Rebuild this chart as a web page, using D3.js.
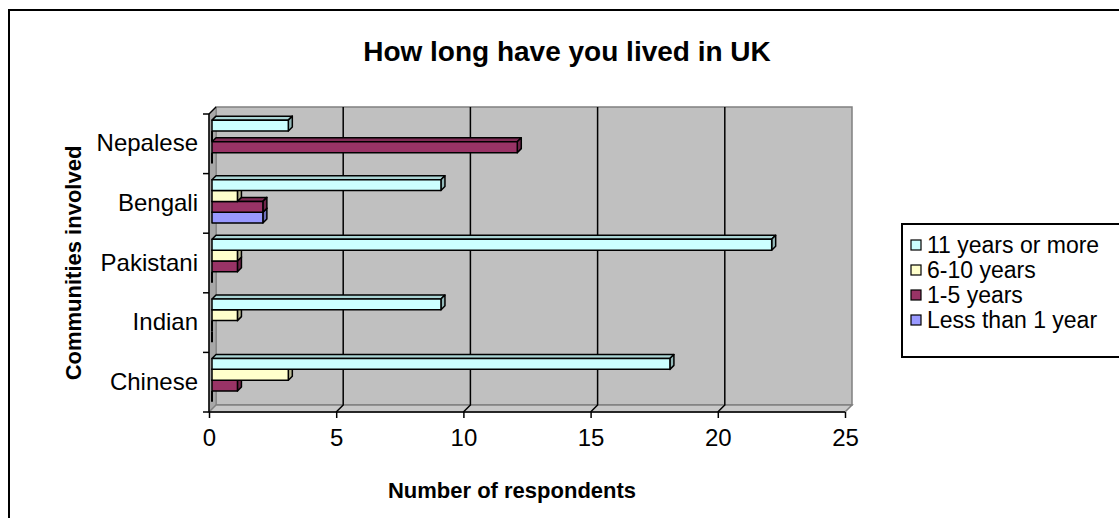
<!DOCTYPE html>
<html>
<head>
<meta charset="utf-8">
<script src="https://cdn.jsdelivr.net/npm/d3@7"></script>
<style>
  html, body { margin: 0; padding: 0; background: #fff; }
  svg { display: block; font-family: "Liberation Sans", Arial, sans-serif; }
</style>
</head>
<body>
<svg id="chart" width="1119" height="518"></svg>
<script>
// Communities, listed bottom to top as on the category axis
const categories = ["Chinese", "Indian", "Pakistani", "Bengali", "Nepalese"];
// Series, listed in legend order (top bar of each group first)
const seriesNames = ["11 years or more", "6-10 years", "1-5 years", "Less than 1 year"];
const elevenPlus = [18, 9, 22, 9, 3];
const sixToTen   = [3, 1, 1, 1, 0];
const oneToFive  = [1, 0, 1, 2, 12];
const underOne   = [0, 0, 0, 2, 0];
const xTicks = [0, 5, 10, 15, 20, 25];

const seriesValues = [elevenPlus, sixToTen, oneToFive, underOne];
const faceColors = ["#CCFFFF", "#FFFFCC", "#993366", "#9999FF"];

const svg = d3.select("#chart");

// front plane of the plot and the projected depth of the walls
const plot = { left: 209, right: 845, top: 114, bottom: 412 };
const DX = 7, DY = -7;

const x = d3.scaleLinear().domain([0, 25]).range([plot.left, plot.right]);
const y = d3.scaleBand().domain(categories).range([plot.bottom, plot.top]).padding(0);
const ySeries = d3.scaleBand().domain(d3.range(seriesNames.length))
  .range([0, y.bandwidth()]).paddingInner(0).paddingOuter(0.75);

const pts = a => a.map(p => p.join(",")).join(" ");

// chart area frame
svg.append("rect").attr("x", 9).attr("y", 10).attr("width", 1200).attr("height", 600)
  .attr("fill", "#fff").attr("stroke", "#000").attr("stroke-width", 2);

// back wall
svg.append("polygon")
  .attr("points", pts([[plot.left + DX, plot.top + DY], [plot.right + DX, plot.top + DY],
                       [plot.right + DX, plot.bottom + DY], [plot.left + DX, plot.bottom + DY]]))
  .attr("fill", "#C0C0C0").attr("stroke", "#808080").attr("stroke-width", 1.5);

// side wall
svg.append("polygon")
  .attr("points", pts([[plot.left, plot.top], [plot.left + DX, plot.top + DY],
                       [plot.left + DX, plot.bottom + DY], [plot.left, plot.bottom]]))
  .attr("fill", "#A8A8A8").attr("stroke", "#808080").attr("stroke-width", 1);

// floor
svg.append("polygon")
  .attr("points", pts([[plot.left, plot.bottom], [plot.right, plot.bottom],
                       [plot.right + DX, plot.bottom + DY], [plot.left + DX, plot.bottom + DY]]))
  .attr("fill", "#C8C8C8").attr("stroke", "#808080").attr("stroke-width", 1.5);

// major gridlines: up the back wall and across the floor
const grid = svg.append("g");
xTicks.filter(t => t > 0 && t < 25).forEach(t => {
  grid.append("polyline")
    .attr("points", pts([[x(t), plot.bottom], [x(t) + DX, plot.bottom + DY], [x(t) + DX, plot.top + DY]]))
    .attr("fill", "none").attr("stroke", "#000").attr("stroke-width", 1.5);
});

// 3-D bars: front face, top face and right side
const FX = 3, FY = -2;      // front face offset into the depth
const BX = 4, BY = -4;      // bar depth
const shade = (c, k) => d3.color(c).darker(k).formatHex();

const bars = svg.append("g");
categories.forEach((cat, ci) => {
  for (let si = seriesNames.length - 1; si >= 0; si--) {
    const v = seriesValues[si][ci];
    const x0 = x(0) + FX, x1 = x(v) + FX;
    const y0 = y(cat) + ySeries(si) + FY, y1 = y0 + ySeries.bandwidth();
    const g = bars.append("g").attr("stroke", "#000").attr("stroke-width", 1.5)
      .attr("stroke-linejoin", "round");
    if (v === 0) {
      // an empty bar collapses to its dark end cap
      g.append("line").attr("x1", x0).attr("x2", x0).attr("y1", y0).attr("y2", y1)
        .attr("stroke-width", 2);
      continue;
    }
    g.append("polygon")
      .attr("points", pts([[x0, y0], [x0 + BX, y0 + BY], [x1 + BX, y0 + BY], [x1, y0]]))
      .attr("fill", shade(faceColors[si], 0.5));
    g.append("polygon")
      .attr("points", pts([[x1, y0], [x1 + BX, y0 + BY], [x1 + BX, y1 + BY], [x1, y1]]))
      .attr("fill", shade(faceColors[si], 0.9));
    g.append("rect")
      .attr("x", x0).attr("y", y0).attr("width", x1 - x0).attr("height", y1 - y0)
      .attr("fill", faceColors[si]);
  }
});

// value axis along the front of the floor
const xAxis = svg.append("g").attr("transform", `translate(0,${plot.bottom})`)
  .call(d3.axisBottom(x).tickValues(xTicks).tickSize(6).tickPadding(11));
xAxis.select(".domain").attr("stroke", "#000").attr("stroke-width", 1.5)
  .attr("d", `M${plot.left},0H${plot.right}`);
xAxis.selectAll(".tick line").attr("stroke", "#000").attr("stroke-width", 1.5);
xAxis.selectAll(".tick text").attr("font-size", 24).attr("fill", "#000")
  .attr("font-family", "Liberation Sans, Arial, sans-serif");

// category axis along the front edge of the side wall
const yAxis = svg.append("g").attr("transform", `translate(${plot.left},0)`)
  .call(d3.axisLeft(y).tickSize(0).tickPadding(11));
yAxis.select(".domain").attr("stroke", "#000").attr("stroke-width", 1.5)
  .attr("d", `M0,${plot.top}V${plot.bottom}`);
yAxis.selectAll(".tick text").attr("font-size", 24).attr("fill", "#000")
  .attr("font-family", "Liberation Sans, Arial, sans-serif");
const catEdges = d3.range(categories.length + 1).map(i => plot.bottom - i * y.step());
yAxis.selectAll(".edge").data(catEdges).join("line").attr("class", "edge")
  .attr("x1", -6).attr("x2", 0).attr("y1", d => d).attr("y2", d => d)
  .attr("stroke", "#000").attr("stroke-width", 1.5);
yAxis.append("line").attr("x1", 0).attr("y1", plot.top).attr("x2", DX).attr("y2", plot.top + DY)
  .attr("stroke", "#000").attr("stroke-width", 1.5);

// titles
svg.append("text").attr("x", 567).attr("y", 61).attr("text-anchor", "middle")
  .attr("font-size", 28).attr("font-weight", "bold").text("How long have you lived in UK");
svg.append("text").attr("x", 512).attr("y", 498).attr("text-anchor", "middle")
  .attr("font-size", 22).attr("font-weight", "bold").text("Number of respondents");
svg.append("text").attr("transform", "translate(81,263) rotate(-90)").attr("text-anchor", "middle")
  .attr("font-size", 22).attr("font-weight", "bold").text("Communities involved");

// legend
const legend = svg.append("g").attr("transform", "translate(902,224)");
legend.append("rect").attr("x", 0).attr("y", 0).attr("width", 300).attr("height", 133)
  .attr("fill", "#fff").attr("stroke", "#000").attr("stroke-width", 2);
seriesNames.forEach((name, i) => {
  const cy = 21 + i * 25;
  legend.append("rect").attr("x", 9).attr("y", cy - 5).attr("width", 10).attr("height", 10)
    .attr("fill", faceColors[i]).attr("stroke", "#000").attr("stroke-width", 1.2);
  legend.append("text").attr("x", 25).attr("y", cy).attr("dy", "0.35em")
    .attr("font-size", 23).text(name);
});
</script>
</body>
</html>
